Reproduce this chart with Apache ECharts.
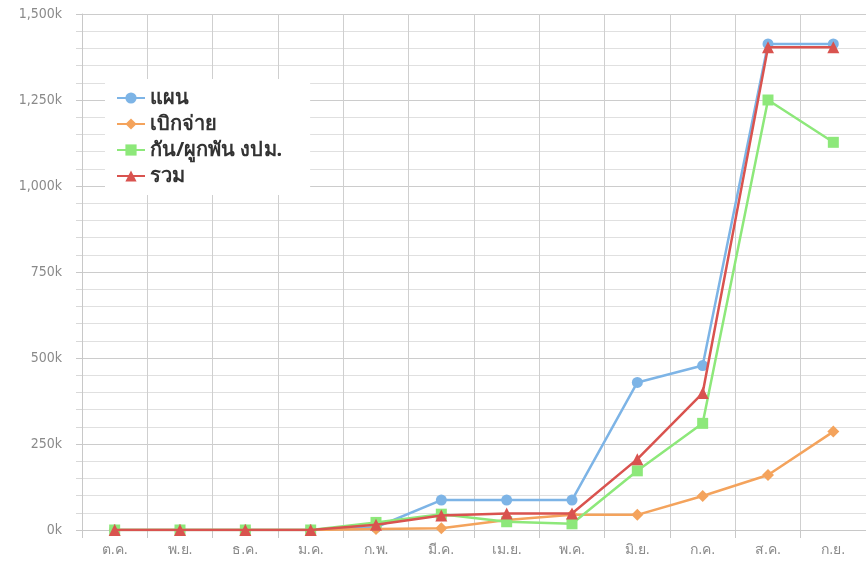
<!DOCTYPE html>
<html>
<head>
<meta charset="utf-8">
<script src="https://cdn.jsdelivr.net/npm/echarts@6/dist/echarts.min.js"></script>
<style>
html,body{margin:0;padding:0;background:#fff;}
#c{width:866px;height:564px;}
</style>
</head>
<body>
<div id="c"></div>
<script>
const categories = ['ต.ค.','พ.ย.','ธ.ค.','ม.ค.','ก.พ.','มี.ค.','เม.ย.','พ.ค.','มิ.ย.','ก.ค.','ส.ค.','ก.ย.'];
const seriesNames = ['แผน','เบิกจ่าย','กัน/ผูกพัน งปม.','รวม'];
const planValues = [0,0,0,0,8,87,87,87,429,478,1413,1413];
const disburseValues = [0,0,0,0,3,5,29,44,44,99,160,286];
const commitValues = [0,0,0,0,22,46,24,18,172,310,1250,1127];
const totalValues = [0,0,0,0,15,42,48,48,206,398,1403,1403];
const yTicks = [0,250,500,750,1000,1250,1500];

const chart = echarts.init(document.getElementById('c'));
const colors = ['#7db4e6','#f4a35c','#8de87a','#d9534f'];
const symbols = ['circle','diamond','rect','triangle'];
const sizes = [11,12,11,12];
const data = [planValues, disburseValues, commitValues, totalValues];
const fmt = v => {
  const s = String(v);
  return s.replace(/\B(?=(\d{3})+(?!\d))/g, ',') + 'k';
};
chart.setOption({
  animation:false,
  color: colors,
  grid:{left:82,right:-5,top:14,bottom:34,containLabel:false},
  legend:{
    orient:'vertical', left:105, top:79,
    backgroundColor:'#fff', padding:[9,28,9,11],
    itemGap:6, itemWidth:28, itemHeight:14,
    textStyle:{fontFamily:'Noto Sans, sans-serif',fontSize:20,fontWeight:'bold',color:'#333',lineHeight:20},
    data: seriesNames
  },
  xAxis:{
    type:'category', data:categories, boundaryGap:true,
    axisLine:{show:true,lineStyle:{color:'#c8c8c8'}},
    axisTick:{show:true,length:8,lineStyle:{color:'#c8c8c8'}},
    axisLabel:{color:'#8a8a8a',fontSize:14,fontFamily:'DejaVu Sans Condensed, DejaVu Sans, sans-serif',margin:13},
    splitLine:{show:true,lineStyle:{color:'#cfcfcf',width:1}}
  },
  yAxis:{
    type:'value', min:0, max:1500, interval:250,
    axisLine:{show:true,lineStyle:{color:'#c8c8c8'}},
    axisTick:{show:true,length:6,lineStyle:{color:'#c8c8c8'}},
    minorTick:{show:true,splitNumber:5,length:6,lineStyle:{color:'#d8d8d8'}},
    minorSplitLine:{show:true,lineStyle:{color:'#e0e0e0'}},
    splitLine:{show:true,lineStyle:{color:'#cccccc'}},
    axisLabel:{color:'#8a8a8a',fontSize:14,fontFamily:'DejaVu Sans Condensed, DejaVu Sans, sans-serif',margin:20,
      formatter: v => yTicks.includes(v) ? fmt(v) : ''}
  },
  series: seriesNames.map((n,i)=>({
    name:n, type:'line', data:data[i],
    symbol:symbols[i], symbolSize:sizes[i], showSymbol:true,
    lineStyle:{width:2.5,color:colors[i]},
    itemStyle:{color:colors[i]},
    z: 2+i
  }))
});
</script>
</body>
</html>
